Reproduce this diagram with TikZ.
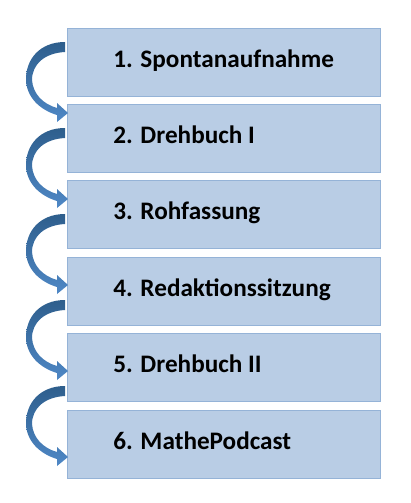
\documentclass[tikz,border=0pt]{standalone}
\usepackage{fontspec}
\setmainfont{Carlito}
\usetikzlibrary{positioning}
\definecolor{boxfill}{HTML}{B9CDE5}
\definecolor{boxline}{HTML}{95B3D7}
\definecolor{arrowtop}{HTML}{2E5E8C}
\definecolor{arrowbot}{HTML}{4F88C6}
\tikzset{
  stepbox/.style={draw=boxline, line width=0.5pt, fill=boxfill, minimum width=156.5pt, minimum height=34pt, inner sep=0pt},
  steptext/.style={font=\fontsize{12.6}{15}\selectfont\bfseries, inner sep=0pt},
  bendarrow/.style={top color=arrowtop, bottom color=arrowbot, draw=none}
}
\begin{document}
\begin{tikzpicture}[x=0.5pt,y=-0.5pt]
\useasboundingbox (0,0) rectangle (411,503);
% steps
\foreach \i/\txt in {1/{1. Spontanaufnahme}, 2/{2. Drehbuch I}, 3/{3. Rohfassung}, 4/{4. Redaktionssitzung}, 5/{5. Drehbuch II}, 6/{6. MathePodcast}} {
  \node[stepbox] (s\i) at (223.5,{62+76.4*(\i-1)}) {};
  \node[steptext, anchor=base west] (t\i) at (113,{67+76.4*(\i-1)}) {\txt};
}
% curved arrows
\foreach \i in {1,...,5} {
  \coordinate (a\i) at (65,{42+86*(\i-1)});
  \shade[bendarrow, shift={(a\i)}] (0,0) .. controls (-25,0) and (-39,17) .. (-39,37)
    .. controls (-39,55) and (-25,68) .. (-8,73) -- (-8,80) -- (3,71) -- (-8,61) -- (-8,66)
    .. controls (-22,62) and (-32,52) .. (-33,38) .. controls (-33,22) and (-20,11) .. (0,10) -- cycle;
}
\end{tikzpicture}
\end{document}
